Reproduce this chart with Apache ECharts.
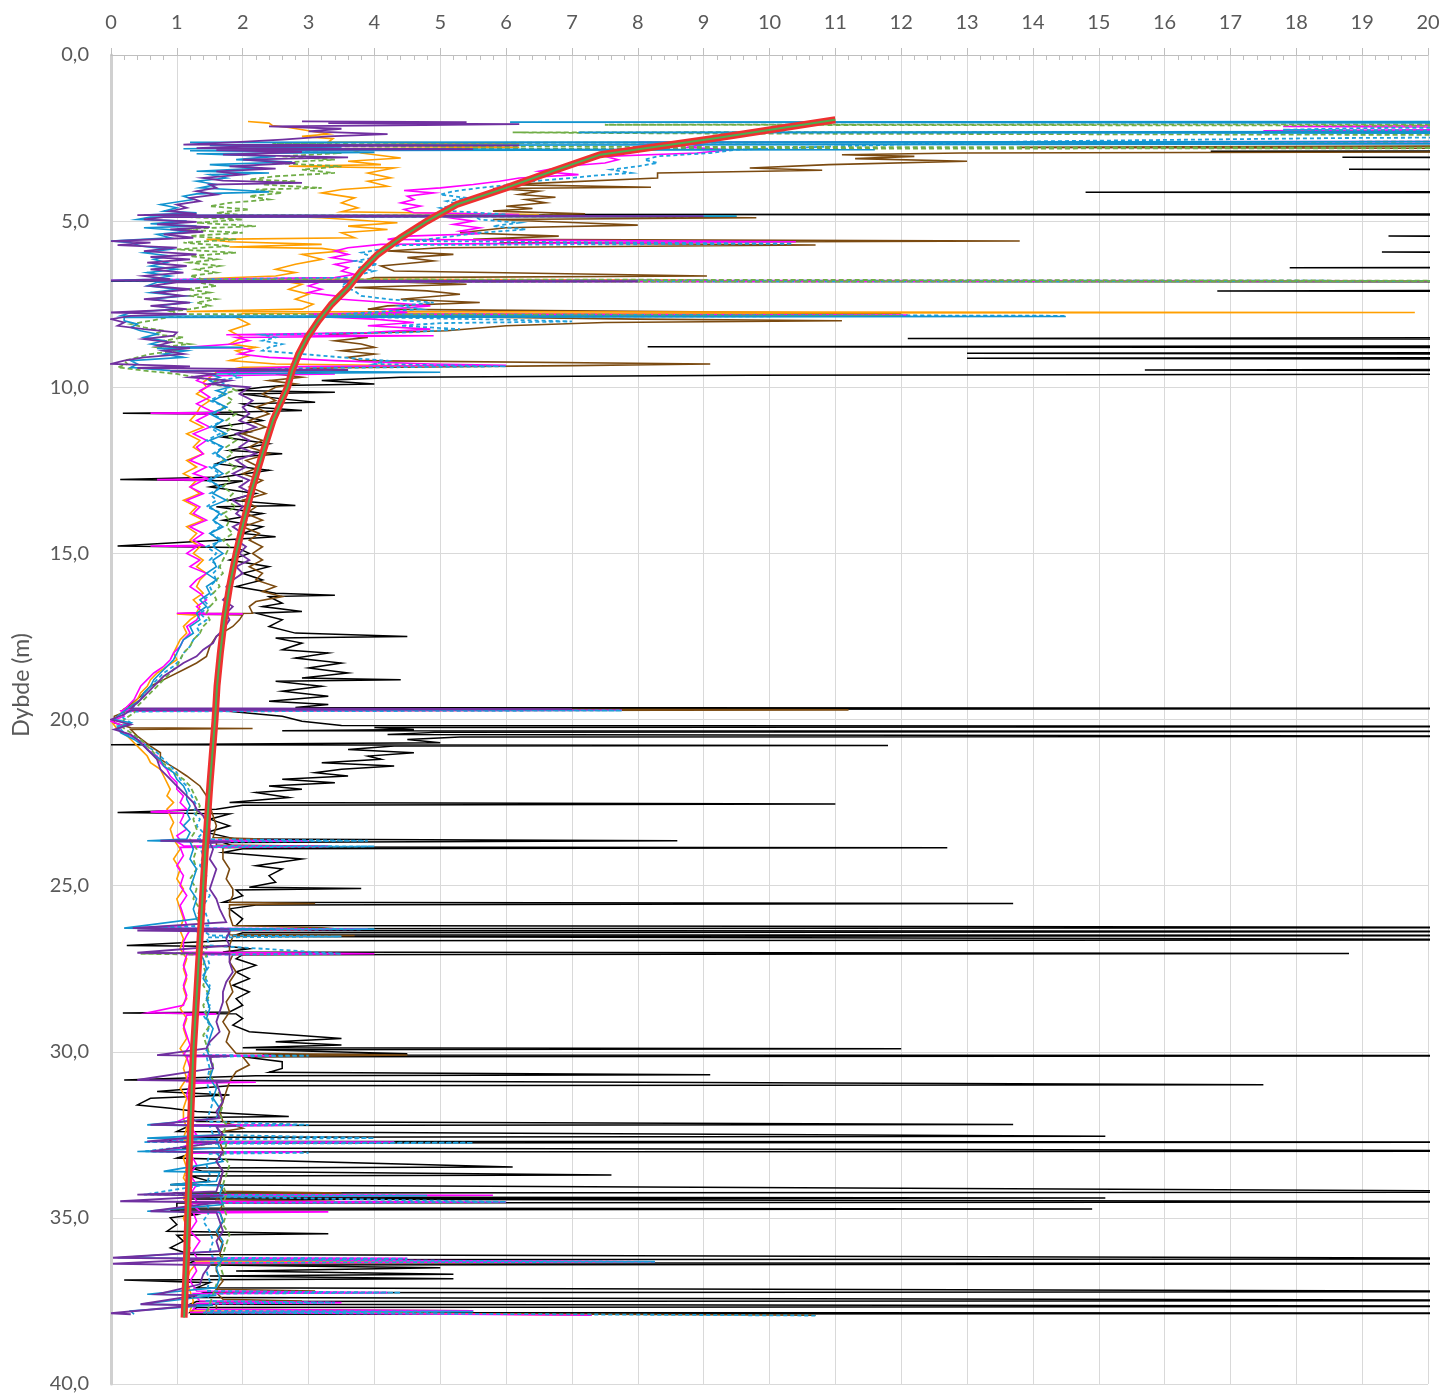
<!DOCTYPE html>
<html>
<head>
<meta charset="utf-8">
<script src="https://cdn.jsdelivr.net/npm/echarts@6/dist/echarts.min.js"></script>
<style>
html,body{margin:0;padding:0;background:#fff;}
#chart{width:1443px;height:1394px;}
</style>
</head>
<body>
<div id="chart"></div>
<script>
// Axis ticks
const xTicks = [0,1,2,3,4,5,6,7,8,9,10,11,12,13,14,15,16,17,18,19,20];
const yTicks = [0,5,10,15,20,25,30,35,40];
const yAxisTitle = 'Dybde (m)';

// Reference curve: [depth (m), value]
const refCurve = [[1.95,11.0],[2.5,9.2],[3.0,7.43],[3.5,6.7],[4.0,6.0],[4.5,5.25],[5.0,4.8],[5.5,4.4],[6.0,4.05],[6.5,3.8],[7.0,3.6],[7.5,3.35],[8.0,3.15],[8.5,2.98],[9.0,2.85],[9.5,2.75],[10,2.68],[11,2.46],[12,2.3],[13,2.15],[14,2.02],[15,1.9],[16,1.8],[17,1.72],[18,1.66],[19,1.61],[20,1.58],[22,1.5],[24,1.43],[26,1.37],[28,1.31],[30,1.25],[32,1.21],[34,1.18],[36,1.15],[38,1.11]];

// Measured profiles: [depth (m), value]; values above 20 run off the plot
const blackPts = [[2.0,24],[2.88,24],[2.9,16.7],[2.92,24],[3.06,24],[3.08,18.7],[3.1,24],[3.42,24],[3.44,18.8],[3.46,24],[4.11,24],[4.13,14.8],[4.15,24],[4.78,24],[4.8,6.8],[4.82,24],[5.43,24],[5.45,19.4],[5.47,24],[5.91,24],[5.93,19.3],[5.95,24],[6.38,24],[6.4,17.9],[6.42,24],[6.79,24],[6.81,0.0],[6.83,24],[7.08,24],[7.1,16.8],[7.12,24],[8.5,24],[8.53,12.1],[8.56,24],[8.75,24],[8.78,8.15],[8.81,24],[8.95,24],[8.98,13.0],[9.01,24],[9.1,24],[9.13,13.0],[9.16,24],[9.45,24],[9.48,15.7],[9.51,24],[9.6,24],[9.64,9.7],[9.7,4.4],[9.8,3.2],[9.9,4.0],[9.95,2.6],
[10.0,2.3],[10.1,1.9],[10.15,3.4],[10.2,2.0],[10.35,2.6],[10.45,3.1],[10.5,2.0],[10.6,2.2],[10.7,2.9],[10.75,1.8],[10.78,0.18],[10.81,1.9],[11.0,2.3],[11.2,1.6],[11.35,2.1],[11.5,1.7],[11.7,2.4],[11.9,1.8],[12.0,2.6],[12.1,1.9],[12.3,1.6],[12.5,2.4],[12.7,1.7],[12.78,0.14],[12.82,2.0],[13.0,1.5],[13.2,2.2],[13.4,1.8],[13.56,2.8],[13.6,1.6],[13.8,2.3],[14.0,1.7],[14.2,2.3],[14.4,2.0],[14.5,2.5],[14.6,1.7],[14.78,0.1],[14.82,1.9],[15.0,2.1],[15.2,1.8],[15.4,2.4],[15.6,2.0],[15.8,2.3],[16.0,1.9],[16.2,2.5],[16.26,3.4],[16.3,2.4],[16.5,2.6],[16.6,2.3],[16.75,2.9],[16.8,2.2],[17.0,2.6],[17.2,2.4],[17.4,2.8],[17.5,4.5],[17.55,2.5],[17.7,2.9],[17.9,2.6],[18.0,3.3],[18.15,2.8],[18.3,3.5],[18.45,3.0],[18.6,3.6],[18.75,2.9],[18.8,4.4],[18.85,2.5],[19.0,3.2],[19.15,2.6],[19.3,3.3],[19.45,2.4],[19.55,3.3],[19.64,2.8],[19.67,24],[19.7,1.5],[19.9,2.6],[20.05,2.9],[20.18,3.5],[20.21,24],[20.24,4.0],[20.3,4.6],[20.34,2.6],[20.36,24],[20.38,5.0],[20.45,4.2],[20.51,24],[20.53,5.3],[20.6,4.5],[20.7,5.0],[20.76,0.0],[20.78,11.8],[20.8,4.3],[20.9,3.6],[21.0,4.6],[21.1,3.9],[21.2,4.1],[21.3,3.2],[21.4,4.3],[21.5,3.5],[21.6,3.1],[21.7,3.6],[21.8,2.6],[21.9,3.4],[22.0,2.4],[22.1,2.9],[22.2,2.2],[22.35,2.7],[22.5,1.8],[22.54,11.0],[22.58,2.0],[22.7,1.6],[22.8,0.1],[22.84,1.8],[23.0,1.5],[23.2,1.8],[23.4,1.45],[23.6,1.9],[23.65,8.6],[23.7,1.7],[23.84,1.9],[23.86,12.7],[23.89,2.0],
[24.0,1.7],[24.2,2.9],[24.4,2.2],[24.5,2.6],[24.7,2.4],[24.9,2.5],[25.05,2.1],[25.09,3.8],[25.13,1.9],[25.3,2.0],[25.5,1.7],[25.54,13.7],[25.58,2.2],[25.7,1.8],[25.85,1.9],[26.0,2.0],[26.2,1.9],[26.26,24],[26.3,2.0],[26.35,1.8],[26.38,24],[26.42,2.0],[26.48,1.9],[26.5,24],[26.53,2.4],[26.63,24],[26.66,1.7],[26.8,0.24],[26.83,1.8],[26.9,2.1],[27.0,1.7],[27.04,18.8],[27.08,2.0],[27.2,1.9],[27.4,2.2],[27.6,1.9],[27.8,2.1],[28.0,1.85],[28.2,2.1],[28.4,1.9],[28.6,2.0],[28.8,1.8],[28.83,0.18],[28.86,1.9],[29.0,2.0],[29.2,1.85],[29.4,2.1],[29.6,3.5],[29.7,2.5],[29.8,3.5],[29.88,2.0],[29.91,12.0],[29.94,2.2],[30.06,4.5],[30.1,2.3],[30.12,24],[30.15,2.0],[30.3,2.6],[30.5,2.6],[30.62,2.4],[30.69,9.1],[30.72,2.2],[30.85,0.2],[30.88,3.3],[30.99,17.5],[31.02,1.8],[31.2,0.7],[31.3,1.8],[31.4,0.6],[31.6,0.4],[31.7,0.9],[31.8,1.3],[31.95,2.7],[31.98,1.2],[32.1,1.3],[32.19,13.7],[32.22,1.2],[32.4,1.0],[32.54,15.1],[32.57,1.3],[32.69,0.8],[32.72,24],[32.75,1.2],[32.9,1.1],[32.99,24],[33.02,1.3],[33.2,1.0],[33.47,6.1],[33.5,1.2],[33.6,1.4],[33.71,7.6],[33.74,1.2],[33.9,1.5],[34.0,0.9],[34.22,24],[34.25,1.0],[34.37,1.2],[34.4,15.1],[34.43,1.1],[34.52,24],[34.55,1.0],[34.7,1.0],[34.73,14.9],[34.76,0.9],[34.9,1.3],[35.0,0.9],[35.2,1.0],[35.4,0.85],[35.48,3.3],[35.52,1.0],[35.7,1.1],[35.9,0.9],[36.1,1.2],[36.23,24],[36.26,1.3],[36.35,1.2],[36.38,24],[36.42,1.5],[36.5,5.0],[36.6,1.9],[36.7,5.2],[36.75,1.5],[36.83,5.2],[36.87,0.2],[36.95,1.5],[37.1,1.3],[37.22,24],[37.25,1.4],[37.4,1.2],[37.49,24],[37.52,1.3],[37.6,1.2],[37.66,24],[37.7,1.3],[37.85,1.2],[37.87,24],[37.9,1.2]];

const brownPts = [[2.72,24],[2.78,13.8],[2.82,24],[2.9,24],[2.95,12.9],[3.0,11.1],[3.05,12.2],[3.12,11.3],[3.2,13.0],[3.3,10.9],[3.4,9.7],[3.47,10.8],[3.55,8.3],[3.7,8.3],[3.9,6.0],[3.98,8.2],[4.02,5.8],[4.1,6.5],[4.2,6.2],[4.28,6.75],[4.35,6.3],[4.45,6.6],[4.55,6.0],[4.62,6.4],[4.7,5.8],[4.78,7.2],[4.85,5.7],[4.9,9.8],[4.95,5.8],[5.05,7.1],[5.12,8.0],[5.2,6.0],[5.35,5.3],[5.45,6.8],[5.55,5.5],[5.6,13.8],[5.65,5.9],[5.72,10.7],[5.8,5.0],[5.9,4.2],[6.0,5.2],[6.1,4.5],[6.2,4.9],[6.35,4.1],[6.5,4.3],[6.65,9.05],[6.7,4.0],[6.8,3.8],[6.9,5.4],[7.0,3.7],[7.1,4.8],[7.2,5.3],[7.35,4.4],[7.45,5.6],[7.55,4.2],[7.65,3.9],[7.78,12.0],[7.85,4.0],[7.95,8.0],[8.0,11.1],[8.05,7.5],[8.15,6.0],[8.3,5.1],[8.4,3.3],[8.5,3.9],[8.6,3.4],[8.7,3.8],[8.8,4.0],[8.9,3.5],[9.0,4.0],[9.1,3.6],[9.2,3.8],[9.3,9.1],[9.35,7.0],[9.42,3.0],[9.5,3.6],[9.6,2.5],[9.7,2.9],[9.8,2.4],[9.9,2.8],[10.0,2.5],
[10.2,2.3],[10.4,2.5],[10.6,2.2],[10.8,2.4],[11.0,2.1],[11.2,2.35],[11.4,2.0],[11.6,2.3],[11.8,2.1],[12.0,2.4],[12.2,2.05],[12.4,2.25],[12.6,2.0],[12.8,2.3],[13.0,2.1],[13.2,2.35],[13.4,2.0],[13.6,2.2],[13.8,2.05],[14.0,2.3],[14.2,2.0],[14.4,2.25],[14.6,2.1],[14.8,2.3],[15.0,2.15],[15.2,2.3],[15.4,2.1],[15.6,2.3],[15.8,2.2],[16.0,2.5],[16.15,2.3],[16.3,2.6],[16.45,2.2],[16.6,2.1],[16.8,2.15],[16.82,1.1],[16.85,2.0],[17.0,1.95],[17.2,1.85],[17.5,1.6],[17.8,1.5],[18.1,1.45],[18.3,1.3],[18.5,1.1],[18.8,0.8],[19.0,0.6],[19.3,0.45],[19.55,0.3],[19.68,0.2],[19.71,11.2],[19.74,0.25],[19.9,0.05],[20.1,0.05],[20.25,0.3],[20.27,2.15],[20.3,0.3],[20.5,0.4],[20.8,0.6],[21.0,0.75],[21.2,0.75],[21.5,1.0],[21.7,1.15],[22.0,1.35],[22.3,1.45],[22.6,1.5],[22.9,1.55],[23.2,1.6],[23.55,1.55],[23.6,2.3],[23.65,1.6],[23.78,1.6],[23.82,3.3],[23.86,1.7],[24.2,1.7],[24.5,1.8],[24.8,1.75],[25.1,1.85],[25.3,1.85],[25.5,1.8],[25.54,3.1],[25.58,1.8],[25.9,1.8],[26.2,1.85],[26.27,3.2],[26.31,3.45],[26.35,1.8],[26.48,1.8],[26.5,3.7],[26.53,1.85],[26.8,1.8],[27.02,1.8],[27.05,3.5],[27.08,1.85],[27.3,1.8],[27.6,1.9],[27.9,1.8],[28.2,1.85],[28.5,1.75],[28.8,1.8],[29.1,1.7],[29.4,1.8],[29.7,1.75],[30.05,1.9],[30.1,4.5],[30.15,2.0],[30.4,2.1],[30.6,1.9],[30.9,1.8],[31.2,1.75],[31.5,1.7],[31.8,1.65],[32.1,1.7],[32.3,2.0],[32.4,1.7],[32.7,1.65],[33.0,1.7],[33.3,1.6],[33.6,1.7],[34.0,1.65],[34.2,1.7],[34.25,3.5],[34.3,1.65],[34.45,1.6],[34.5,3.4],[34.55,1.7],[34.8,1.65],[35.1,1.7],[35.5,1.6],[35.8,1.7],[36.1,1.65],[36.28,1.7],[36.32,8.26],[36.36,1.6],[36.6,1.6],[36.9,1.7],[37.15,1.6],[37.2,3.1],[37.25,1.6],[37.45,1.7],[37.5,2.9],[37.55,1.6],[37.75,1.6],[37.8,5.5],[37.85,1.6],[37.93,10.7]];

const orangePts = [[2.0,2.08],[2.05,2.4],[2.12,2.45],[2.18,2.7],[2.28,3.0],[2.38,3.3],[2.45,2.9],[2.52,3.37],[2.62,3.3],[2.66,6.2],[2.7,3.5],[2.78,6.2],[2.82,3.6],[2.95,3.8],[3.1,4.4],[3.2,3.6],[3.3,4.1],[3.35,2.7],[3.4,4.3],[3.55,3.9],[3.7,4.25],[3.8,3.9],[3.95,4.2],[4.05,3.5],[4.15,3.2],[4.3,3.7],[4.45,3.5],[4.6,3.75],[4.72,3.5],[4.8,6.5],[4.85,2.5],[4.9,3.2],[5.05,4.35],[5.15,3.6],[5.25,4.2],[5.35,3.5],[5.5,3.7],[5.55,1.45],[5.62,1.8],[5.7,3.2],[5.78,1.8],[5.82,3.2],[5.9,3.5],[6.0,2.9],[6.15,3.2],[6.3,2.8],[6.45,2.5],[6.55,2.8],[6.65,2.5],[6.74,1.3],[6.77,9.0],[6.8,2.6],[6.9,2.9],[7.05,2.7],[7.2,3.0],[7.35,2.8],[7.5,3.07],[7.65,2.9],[7.72,1.15],[7.75,19.8],[7.78,2.0],[7.9,1.9],[8.1,2.1],[8.3,1.8],[8.5,2.0],[8.7,1.8],[8.8,2.2],[8.9,1.9],[9.05,2.1],[9.2,1.8],[9.3,2.5],[9.36,5.0],[9.4,2.0],[9.55,1.6],[9.7,1.5],[9.85,1.4],[10.0,1.45],[10.2,1.3],[10.4,1.5],[10.6,1.35],[10.78,1.3],
[11.0,1.2],[11.2,1.4],[11.4,1.15],[11.6,1.35],[11.8,1.25],[12.0,1.4],[12.2,1.15],[12.4,1.3],[12.6,1.1],[12.8,1.3],[13.0,1.2],[13.2,1.35],[13.4,1.1],[13.6,1.3],[13.8,1.2],[14.0,1.4],[14.2,1.15],[14.4,1.3],[14.6,1.2],[14.8,1.35],[15.0,1.25],[15.2,1.4],[15.4,1.3],[15.6,1.45],[15.8,1.35],[16.0,1.3],[16.2,1.4],[16.4,1.25],[16.6,1.35],[16.78,1.3],[16.82,1.0],[16.86,1.3],[17.0,1.2],[17.2,1.1],[17.4,1.15],[17.6,1.05],[17.8,1.0],[18.0,0.95],[18.2,1.0],[18.4,0.85],[18.6,0.7],[18.8,0.6],[19.0,0.55],[19.2,0.45],[19.4,0.4],[19.6,0.3],[19.68,0.25],[19.7,5.0],[19.72,0.2],[19.9,0.1],[20.1,0.02],[20.3,0.1],[20.5,0.25],[20.7,0.35],[20.9,0.45],[21.1,0.55],[21.3,0.6],[21.5,0.75],[21.7,0.8],[21.9,0.85],[22.1,0.9],[22.3,0.85],[22.5,0.95],[22.7,0.85],[22.9,0.9],[23.1,0.95],[23.3,0.9],[23.6,0.95],[23.9,1.05],[24.2,0.95],[24.5,1.05],[24.8,1.0],[25.1,1.1],[25.4,1.0],[25.7,1.05],[26.0,1.1],[26.3,1.05],[26.32,3.0],[26.35,1.05],[26.6,1.1],[26.9,1.05],[27.2,1.15],[27.5,1.1],[27.8,1.15],[28.1,1.1],[28.4,1.15],[28.7,1.05],[29.0,1.15],[29.3,1.1],[29.6,1.15],[29.9,1.05],[30.2,1.15],[30.5,1.1],[30.8,1.15],[31.1,1.05],[31.4,1.15],[31.7,1.1],[32.0,1.1],[32.3,1.15],[32.6,1.1],[32.9,1.2],[33.2,1.1],[33.5,1.15],[33.8,1.1],[34.1,1.2],[34.4,1.1],[34.7,1.2],[35.0,1.1],[35.3,1.15],[35.6,1.1],[35.9,1.2],[36.2,1.15],[36.3,1.3],[36.33,8.2],[36.36,1.3],[36.6,1.2],[36.9,1.15],[37.2,1.2],[37.5,1.25],[37.8,1.2],[37.93,7.3]];

const magentaPts = [[2.0,24],[2.1,24],[2.15,17.8],[2.2,24],[2.28,17.5],[2.32,24],[2.6,24],[2.63,8.0],[2.7,9.0],[2.78,8.75],[2.85,9.4],[2.95,8.9],[3.05,7.5],[3.15,7.7],[3.25,7.5],[3.35,6.9],[3.5,6.5],[3.6,7.1],[3.7,6.2],[3.8,5.9],[3.9,5.5],[4.0,5.0],[4.08,4.45],[4.15,4.9],[4.25,4.5],[4.35,4.6],[4.45,4.4],[4.55,4.7],[4.65,4.45],[4.75,4.6],[4.8,6.2],[4.84,5.6],[4.9,5.15],[5.0,5.5],[5.1,5.2],[5.2,5.6],[5.3,5.3],[5.38,5.6],[5.45,4.5],[5.55,4.2],[5.62,10.4],[5.7,4.1],[5.8,3.6],[5.9,3.4],[6.0,3.6],[6.1,3.35],[6.2,3.7],[6.3,3.4],[6.4,3.6],[6.5,3.5],[6.6,3.7],[6.7,3.4],[6.78,0.0],[6.8,24],[6.82,3.2],[6.95,3.0],[7.05,3.2],[7.15,3.0],[7.25,3.4],[7.35,3.5],[7.45,4.2],[7.55,4.85],[7.65,4.2],[7.75,4.5],[7.8,3.0],[7.83,12.1],[7.86,3.0],[7.95,4.0],[8.05,4.6],[8.15,3.9],[8.25,4.85],[8.35,3.9],[8.42,1.75],[8.45,4.9],[8.5,1.9],[8.6,2.1],[8.7,1.85],[8.8,1.15],[8.82,2.0],[8.9,2.15],[9.0,1.95],[9.1,2.4],[9.2,3.4],[9.3,4.85],[9.34,6.0],[9.38,2.8],[9.45,2.0],[9.55,1.6],[9.6,3.4],[9.66,1.4],[9.8,1.3],[9.95,1.5],
[10.1,1.35],[10.3,1.5],[10.5,1.3],[10.7,1.5],[10.76,1.6],[10.78,0.6],[10.8,1.5],[11.0,1.3],[11.2,1.5],[11.4,1.25],[11.6,1.45],[11.8,1.3],[12.0,1.4],[12.2,1.2],[12.4,1.45],[12.6,1.25],[12.76,1.5],[12.78,0.7],[12.8,1.4],[13.0,1.2],[13.2,1.4],[13.4,1.15],[13.6,1.35],[13.8,1.25],[14.0,1.45],[14.2,1.2],[14.4,1.4],[14.6,1.25],[14.76,1.4],[14.78,0.6],[14.8,1.3],[15.0,1.15],[15.2,1.35],[15.4,1.2],[15.6,1.45],[15.8,1.3],[16.0,1.2],[16.2,1.35],[16.4,1.45],[16.6,1.3],[16.78,1.4],[16.8,1.0],[16.82,2.0],[16.84,1.35],[17.0,1.3],[17.2,1.15],[17.4,1.2],[17.6,1.1],[17.8,1.05],[18.0,0.95],[18.2,0.9],[18.4,0.8],[18.6,0.65],[18.8,0.55],[19.0,0.45],[19.2,0.4],[19.4,0.35],[19.6,0.25],[19.7,0.2],[19.72,7.76],[19.74,0.15],[19.9,0.2],[20.05,0.0],[20.2,0.2],[20.3,0.1],[20.5,0.3],[20.7,0.5],[20.9,0.55],[21.1,0.7],[21.3,0.75],[21.5,0.85],[21.7,0.9],[21.9,1.0],[22.1,1.0],[22.3,1.1],[22.5,1.05],[22.7,1.15],[22.78,0.6],[22.82,1.1],[22.9,1.1],[23.1,1.05],[23.3,1.15],[23.5,1.0],[23.63,1.05],[23.65,3.0],[23.68,1.0],[23.8,1.1],[23.82,3.3],[23.85,1.05],[24.1,1.1],[24.4,1.0],[24.7,1.1],[25.0,1.05],[25.3,1.15],[25.6,1.05],[25.9,1.1],[26.2,1.15],[26.28,0.3],[26.31,3.9],[26.34,1.2],[26.5,1.15],[26.7,1.1],[27.0,1.1],[27.05,4.0],[27.08,1.15],[27.4,1.1],[27.7,1.15],[28.0,1.1],[28.3,1.15],[28.6,1.1],[28.83,0.55],[28.86,1.6],[28.9,1.15],[29.2,1.1],[29.5,1.15],[29.8,1.2],[30.1,1.1],[30.12,2.5],[30.15,1.15],[30.5,1.2],[30.9,1.15],[30.92,2.2],[30.95,1.2],[31.3,1.15],[31.6,1.2],[31.9,1.25],[32.19,0.9],[32.21,2.8],[32.24,1.2],[32.5,1.3],[32.7,0.9],[32.72,4.3],[32.75,1.25],[33.0,0.9],[33.02,2.9],[33.05,1.2],[33.4,1.3],[33.7,1.2],[34.0,1.3],[34.3,1.2],[34.32,5.8],[34.35,1.25],[34.5,1.3],[34.52,6.0],[34.55,1.2],[34.8,1.35],[34.82,3.3],[34.85,1.25],[35.1,1.3],[35.4,1.2],[35.7,1.35],[36.0,1.25],[36.2,1.3],[36.22,4.5],[36.25,1.3],[36.32,8.26],[36.36,1.25],[36.6,1.3],[36.9,1.2],[37.2,1.3],[37.25,4.2],[37.28,1.25],[37.5,1.35],[37.55,3.5],[37.58,1.3],[37.75,1.25],[37.8,5.5],[37.84,1.2],[37.93,7.3]];

const blueDashPts = [[2.0,24],[2.15,24],[2.2,19.0],[2.25,17.8],[2.3,24],[2.45,24],[2.5,18.6],[2.6,14.0],[2.65,12.7],[2.75,11.0],[2.85,9.5],[2.95,9.1],[3.05,8.3],[3.15,8.1],[3.25,8.3],[3.35,8.0],[3.45,7.6],[3.55,7.9],[3.62,7.4],[3.7,7.0],[3.8,6.4],[3.9,6.1],[4.0,5.6],[4.1,5.2],[4.2,5.0],[4.3,5.4],[4.4,5.1],[4.5,5.3],[4.6,5.0],[4.7,5.2],[4.8,6.0],[4.83,5.5],[4.95,5.6],[5.05,6.2],[5.15,5.8],[5.25,6.3],[5.35,5.6],[5.5,5.0],[5.6,4.6],[5.68,10.35],[5.72,4.4],[5.85,4.1],[5.95,3.8],[6.1,4.0],[6.2,3.7],[6.3,4.05],[6.4,3.75],[6.5,4.0],[6.6,3.8],[6.7,3.7],[6.78,0.2],[6.8,24],[6.82,3.6],[6.95,3.5],[7.1,3.7],[7.25,3.8],[7.35,4.2],[7.45,4.9],[7.55,4.4],[7.65,4.7],[7.8,3.5],[7.85,14.5],[7.88,3.6],[7.97,6.1],[8.02,7.0],[8.07,5.0],[8.15,4.4],[8.25,5.3],[8.35,4.5],[8.42,2.3],[8.5,2.5],[8.6,2.3],[8.7,2.6],[8.8,2.4],[8.9,2.3],[9.0,2.9],[9.1,3.5],[9.2,4.2],[9.3,4.0],[9.37,6.0],[9.42,3.0],[9.5,2.0],[9.6,1.8],[9.7,1.95],[9.8,1.6],[9.95,1.8],
[10.2,1.7],[10.4,1.5],[10.6,1.75],[10.8,1.55],[11.0,1.7],[11.2,1.5],[11.4,1.65],[11.6,1.45],[11.8,1.7],[12.0,1.55],[12.2,1.75],[12.4,1.5],[12.6,1.65],[12.8,1.45],[13.0,1.7],[13.2,1.5],[13.4,1.6],[13.6,1.45],[13.8,1.7],[14.0,1.55],[14.2,1.65],[14.4,1.5],[14.6,1.7],[14.8,1.45],[15.0,1.6],[15.2,1.5],[15.4,1.65],[15.6,1.55],[15.8,1.6],[16.0,1.5],[16.2,1.55],[16.4,1.4],[16.6,1.5],[16.8,1.35],[17.0,1.45],[17.2,1.3],[17.4,1.35],[17.6,1.25],[17.8,1.2],[18.0,1.1],[18.2,1.05],[18.4,0.95],[18.6,0.8],[18.8,0.7],[19.0,0.6],[19.2,0.5],[19.4,0.45],[19.6,0.35],[19.7,0.3],[19.73,7.76],[19.76,0.25],[19.9,0.15],[20.1,0.3],[20.2,0.1],[20.4,0.2],[20.6,0.4],[20.8,0.55],[21.0,0.7],[21.2,0.8],[21.4,0.9],[21.6,1.0],[21.8,1.05],[22.0,1.15],[22.2,1.2],[22.4,1.25],[22.6,1.3],[22.8,1.25],[23.0,1.35],[23.2,1.3],[23.4,1.4],[23.6,1.3],[23.65,3.9],[23.68,1.35],[23.8,1.4],[23.82,4.0],[23.85,1.35],[24.1,1.4],[24.4,1.35],[24.7,1.45],[25.0,1.4],[25.3,1.5],[25.6,1.4],[25.9,1.45],[26.2,1.5],[26.28,0.3],[26.31,4.0],[26.34,1.4],[26.5,1.5],[26.53,3.5],[26.56,1.45],[26.8,1.5],[27.05,3.5],[27.08,1.45],[27.4,1.5],[27.7,1.4],[28.0,1.5],[28.3,1.45],[28.6,1.5],[28.9,1.4],[29.2,1.5],[29.5,1.45],[29.8,1.5],[30.1,1.4],[30.12,3.0],[30.15,1.45],[30.5,1.5],[30.9,1.45],[31.2,1.5],[31.5,1.55],[31.8,1.5],[32.1,1.45],[32.2,3.0],[32.23,1.5],[32.5,1.55],[32.6,4.0],[32.63,1.5],[32.72,0.5],[32.74,5.5],[32.77,1.5],[33.0,0.5],[33.04,3.0],[33.07,1.5],[33.4,1.45],[33.7,1.5],[34.0,1.45],[34.3,0.5],[34.33,4.8],[34.36,1.5],[34.52,6.0],[34.55,1.45],[34.8,1.5],[35.1,1.4],[35.4,1.5],[35.7,1.55],[36.0,1.5],[36.2,1.55],[36.23,4.5],[36.26,1.5],[36.32,8.26],[36.35,1.5],[36.6,1.45],[36.9,1.5],[37.2,1.45],[37.25,4.4],[37.28,1.5],[37.5,1.45],[37.55,3.4],[37.58,1.5],[37.8,1.45],[37.82,5.5],[37.85,1.4],[37.94,10.7]];

const greenDashPts = [[2.0,24],[2.08,24],[2.1,7.5],[2.13,24],[2.3,24],[2.33,6.1],[2.36,8.5],[2.42,24],[2.6,24],[2.65,2.45],[2.7,3.6],[2.75,2.6],[2.8,24],[2.83,3.0],[2.9,2.5],[2.95,3.5],[3.05,2.6],[3.15,3.4],[3.25,2.45],[3.35,3.5],[3.45,2.9],[3.55,3.4],[3.65,2.5],[3.75,2.1],[3.8,2.8],[3.9,2.3],[4.0,3.2],[4.05,2.2],[4.15,2.6],[4.25,2.1],[4.35,2.4],[4.45,1.8],[4.55,1.5],[4.65,2.1],[4.75,1.6],[4.82,2.0],[4.85,9.5],[4.88,1.2],[4.95,2.0],[5.05,1.3],[5.15,2.2],[5.25,1.0],[5.35,2.0],[5.45,1.2],[5.55,1.9],[5.65,1.1],[5.75,1.8],[5.85,1.0],[5.95,1.9],[6.05,1.2],[6.15,1.6],[6.25,1.2],[6.35,1.65],[6.45,1.3],[6.55,1.6],[6.65,1.2],[6.75,1.4],[6.8,24],[6.83,1.3],[6.95,1.6],[7.05,1.15],[7.15,1.5],[7.25,1.2],[7.35,1.6],[7.45,1.3],[7.55,1.5],[7.65,1.2],[7.72,0.9],[7.8,1.0],[7.85,12],[7.88,0.9],[8.0,0.6],[8.1,0.3],[8.2,0.5],[8.3,0.8],[8.4,0.65],[8.5,1.1],[8.6,0.8],[8.7,1.2],[8.8,0.7],[8.9,1.0],[9.0,0.6],[9.1,0.4],[9.2,0.2],[9.3,0.25],[9.4,0.1],[9.5,0.5],[9.6,1.0],[9.7,1.3],[9.8,1.6],[9.9,1.5],[10.0,1.8],[10.1,1.9],[10.2,1.7],
[10.4,1.85],[10.6,1.7],[10.8,1.9],[11.0,1.75],[11.2,1.85],[11.4,1.7],[11.6,1.9],[11.8,1.75],[12.0,1.85],[12.2,1.7],[12.4,1.9],[12.6,1.75],[12.8,1.8],[13.0,1.7],[13.2,1.85],[13.4,1.75],[13.6,1.9],[13.8,1.7],[14.0,1.8],[14.2,1.75],[14.4,1.85],[14.6,1.7],[14.8,1.8],[15.0,1.75],[15.2,1.7],[15.4,1.65],[15.6,1.7],[15.8,1.6],[16.0,1.65],[16.2,1.55],[16.4,1.6],[16.6,1.5],[16.8,1.45],[17.0,1.5],[17.2,1.4],[17.4,1.35],[17.6,1.25],[17.8,1.2],[18.0,1.1],[18.2,1.05],[18.4,1.0],[18.6,0.9],[18.8,0.8],[19.0,0.7],[19.2,0.6],[19.4,0.5],[19.6,0.4],[19.8,0.35],[20.0,0.2],[20.2,0.15],[20.4,0.3],[20.6,0.45],[20.8,0.55],[21.0,0.65],[21.2,0.7],[21.4,0.85],[21.6,0.95],[21.8,1.1],[22.0,1.2],[22.2,1.25],[22.4,1.3],[22.6,1.35],[22.8,1.3],[23.0,1.25],[23.3,1.3],[23.6,1.2],[23.9,1.3],[24.2,1.25],[24.5,1.3],[24.8,1.2],[25.1,1.3],[25.4,1.25],[25.7,1.35],[26.0,1.3],[26.3,1.4],[26.6,1.35],[26.9,1.45],[27.02,1.4],[27.05,0.45],[27.08,1.45],[27.4,1.4],[27.7,1.45],[28.0,1.4],[28.3,1.5],[28.6,1.4],[28.9,1.45],[29.2,1.5],[29.5,1.4],[29.8,1.45],[30.1,1.5],[30.4,1.55],[30.7,1.5],[31.0,1.6],[31.3,1.65],[31.6,1.7],[31.9,1.65],[32.2,1.75],[32.5,1.7],[32.8,1.75],[33.1,1.7],[33.4,1.8],[33.7,1.75],[34.0,1.7],[34.3,1.75],[34.6,1.7],[34.9,1.75],[35.2,1.7],[35.5,1.8],[35.8,1.75],[36.1,1.7],[36.4,1.65],[36.7,1.7],[37.0,1.6],[37.3,1.55],[37.6,1.5],[37.9,1.45]];

const bluePts = [[2.0,24],[2.02,6.06],[2.05,24],[2.3,24],[2.33,7.1],[2.36,24],[2.6,24],[2.63,1.2],[2.67,24],[2.72,1.5],[2.77,3.5],[2.82,1.1],[2.85,11.6],[2.88,1.2],[2.93,4.0],[2.97,1.3],[3.05,2.5],[3.15,1.9],[3.22,2.75],[3.3,1.5],[3.4,2.3],[3.5,1.3],[3.55,2.4],[3.6,1.5],[3.7,1.75],[3.8,1.3],[3.9,1.6],[4.0,1.35],[4.08,2.05],[4.12,2.4],[4.18,1.3],[4.25,1.1],[4.35,1.25],[4.5,0.75],[4.6,1.0],[4.7,0.8],[4.75,1.3],[4.82,0.5],[4.85,9.5],[4.88,0.6],[4.95,0.4],[5.0,1.15],[5.08,0.6],[5.15,1.3],[5.2,0.5],[5.3,1.2],[5.4,0.7],[5.5,0.9],[5.6,0.0],[5.65,0.3],[5.75,0.45],[5.85,0.9],[5.95,0.5],[6.05,0.9],[6.15,0.65],[6.25,0.85],[6.35,0.6],[6.45,1.0],[6.55,0.55],[6.65,0.9],[6.75,0.6],[6.79,0.0],[6.81,6.0],[6.84,0.7],[6.95,0.55],[7.05,1.0],[7.15,0.6],[7.25,1.1],[7.35,0.6],[7.45,1.15],[7.55,0.7],[7.65,1.0],[7.75,0.3],[7.85,0.15],[7.87,14.5],[7.9,0.2],[8.0,0.2],[8.1,0.4],[8.2,0.3],[8.3,0.45],[8.4,0.7],[8.5,0.5],[8.6,0.8],[8.7,0.6],[8.78,0.9],[8.8,2.0],[8.83,0.7],[8.9,1.15],[9.0,0.8],[9.1,1.1],[9.2,0.3],[9.3,0.4],[9.4,0.3],[9.5,0.9],[9.55,5.0],[9.6,1.5],[9.7,1.65],[9.8,1.5],[9.9,1.6],[10.0,1.8],[10.1,1.6],[10.2,1.75],
[10.4,1.55],[10.6,1.75],[10.8,1.5],[11.0,1.7],[11.2,1.55],[11.4,1.75],[11.6,1.5],[11.8,1.7],[12.0,1.6],[12.2,1.75],[12.4,1.55],[12.6,1.7],[12.8,1.5],[13.0,1.65],[13.2,1.55],[13.4,1.75],[13.6,1.5],[13.8,1.65],[14.0,1.55],[14.2,1.7],[14.4,1.5],[14.6,1.65],[14.8,1.55],[15.0,1.7],[15.2,1.55],[15.4,1.6],[15.6,1.45],[15.8,1.6],[16.0,1.45],[16.2,1.5],[16.4,1.35],[16.6,1.45],[16.8,1.3],[17.0,1.35],[17.2,1.2],[17.4,1.25],[17.6,1.1],[17.8,1.05],[18.0,1.0],[18.2,0.95],[18.4,0.85],[18.6,0.75],[18.8,0.65],[19.0,0.6],[19.2,0.5],[19.4,0.45],[19.6,0.3],[19.75,0.2],[19.9,0.1],[20.0,0.05],[20.1,0.3],[20.25,0.1],[20.4,0.15],[20.6,0.35],[20.8,0.5],[21.0,0.6],[21.2,0.75],[21.4,0.8],[21.6,0.95],[21.8,1.0],[22.0,1.1],[22.2,1.15],[22.4,1.15],[22.6,1.2],[22.8,1.15],[23.0,1.2],[23.2,1.1],[23.4,1.2],[23.6,1.15],[23.65,0.55],[23.68,1.2],[23.9,1.25],[24.2,1.2],[24.5,1.3],[24.8,1.25],[25.1,1.2],[25.4,1.3],[25.7,1.25],[26.0,1.3],[26.28,0.2],[26.31,2.5],[26.34,1.3],[26.6,1.35],[26.9,1.3],[27.2,1.4],[27.5,1.45],[27.8,1.4],[28.1,1.5],[28.4,1.45],[28.7,1.5],[29.0,1.45],[29.3,1.55],[29.6,1.5],[29.9,1.45],[30.2,1.5],[30.5,1.55],[30.8,1.5],[31.1,1.6],[31.4,1.55],[31.7,1.65],[32.0,1.6],[32.2,0.55],[32.23,1.6],[32.5,1.65],[32.6,0.55],[32.63,1.6],[32.9,1.65],[33.0,0.4],[33.03,1.6],[33.3,1.7],[33.6,0.8],[33.63,1.65],[33.9,1.6],[34.0,0.9],[34.03,1.7],[34.3,1.65],[34.6,1.7],[34.8,0.55],[34.83,1.65],[35.1,1.7],[35.4,1.6],[35.7,1.7],[36.0,1.65],[36.2,0.1],[36.23,1.7],[36.5,1.6],[36.8,1.65],[37.1,1.6],[37.3,0.55],[37.33,1.6],[37.6,0.45],[37.63,1.55],[37.8,0.3],[37.9,0.35]];

const purplePts = [[2.0,2.9],[2.02,5.4],[2.05,3.3],[2.08,6.2],[2.11,4.75],[2.15,2.4],[2.22,3.5],[2.3,3.0],[2.38,4.2],[2.45,3.3],[2.55,2.6],[2.62,1.9],[2.7,1.1],[2.72,6.2],[2.75,2.0],[2.8,1.3],[2.83,5.5],[2.86,1.6],[2.92,2.9],[3.0,1.7],[3.08,3.6],[3.15,2.0],[3.25,2.8],[3.35,1.8],[3.42,2.5],[3.5,1.6],[3.6,2.0],[3.7,1.4],[3.78,1.7],[3.85,2.9],[3.9,1.5],[4.0,1.6],[4.1,1.3],[4.2,1.6],[4.3,1.2],[4.4,1.35],[4.5,1.0],[4.6,1.15],[4.7,0.9],[4.78,1.3],[4.82,0.4],[4.85,9.0],[4.88,0.8],[4.95,0.5],[5.02,1.3],[5.1,0.7],[5.18,1.5],[5.25,0.9],[5.32,1.4],[5.4,0.8],[5.5,1.25],[5.6,0.0],[5.65,0.6],[5.72,0.1],[5.8,1.0],[5.9,0.5],[6.0,1.3],[6.08,0.6],[6.15,1.2],[6.25,0.55],[6.35,1.15],[6.45,0.6],[6.55,1.1],[6.65,0.5],[6.75,0.9],[6.79,0.0],[6.81,8.0],[6.84,1.0],[6.95,0.6],[7.05,1.2],[7.15,0.7],[7.25,1.1],[7.35,0.5],[7.45,1.2],[7.55,0.6],[7.65,1.15],[7.75,0.0],[7.8,1.15],[7.85,0.3],[7.95,0.0],[8.05,0.2],[8.15,0.1],[8.25,0.5],[8.35,1.0],[8.45,0.95],[8.55,0.5],[8.65,0.9],[8.75,0.7],[8.82,1.2],[8.9,0.8],[9.0,1.1],[9.1,0.5],[9.2,0.2],[9.3,0.0],[9.37,1.2],[9.42,0.4],[9.48,3.6],[9.52,0.9],[9.6,1.6],[9.7,1.2],[9.8,1.8],[9.9,1.5],[10.0,2.1],
[10.2,1.95],[10.4,2.15],[10.6,2.0],[10.8,2.1],[11.0,1.95],[11.2,2.2],[11.4,1.9],[11.6,2.1],[11.8,1.95],[12.0,2.2],[12.2,1.9],[12.4,2.05],[12.6,1.85],[12.8,2.1],[13.0,1.95],[13.2,2.15],[13.4,1.85],[13.6,2.0],[13.8,1.9],[14.0,2.05],[14.2,1.85],[14.4,2.0],[14.6,1.9],[14.8,2.05],[15.0,1.95],[15.2,2.1],[15.4,1.9],[15.6,2.0],[15.8,1.85],[16.0,1.75],[16.2,1.8],[16.4,1.7],[16.6,1.85],[16.8,1.75],[17.0,1.8],[17.3,1.7],[17.5,1.6],[17.7,1.55],[17.9,1.4],[18.1,1.3],[18.3,1.1],[18.5,0.95],[18.7,0.8],[18.9,0.7],[19.1,0.6],[19.3,0.5],[19.5,0.4],[19.66,0.3],[19.69,7.0],[19.72,0.3],[19.85,0.2],[20.0,0.0],[20.15,0.3],[20.3,0.05],[20.45,0.3],[20.6,0.4],[20.8,0.5],[21.0,0.6],[21.2,0.7],[21.5,0.75],[21.7,0.85],[21.9,0.95],[22.1,1.05],[22.3,1.15],[22.5,1.25],[22.7,1.3],[22.9,1.4],[23.1,1.45],[23.3,1.5],[23.63,1.5],[23.65,0.75],[23.68,1.8],[23.72,1.5],[23.9,1.55],[24.2,1.5],[24.5,1.6],[24.8,1.55],[25.1,1.5],[25.4,1.6],[25.7,1.65],[25.9,1.7],[26.1,1.75],[26.28,0.33],[26.31,1.8],[26.35,0.4],[26.38,1.8],[26.6,1.75],[26.8,1.8],[27.02,0.4],[27.05,1.8],[27.3,1.8],[27.6,1.85],[27.9,1.75],[28.2,1.7],[28.5,1.7],[28.8,1.65],[29.1,1.6],[29.4,1.65],[29.7,1.5],[29.9,1.45],[30.1,0.7],[30.13,1.8],[30.16,1.5],[30.5,1.55],[30.85,0.4],[30.88,1.8],[30.92,1.6],[31.2,1.65],[31.5,1.7],[31.8,1.6],[32.0,1.65],[32.2,0.6],[32.23,1.9],[32.26,1.6],[32.5,1.7],[32.7,0.55],[32.73,1.65],[33.0,0.6],[33.03,1.7],[33.3,1.6],[33.6,1.7],[33.9,1.65],[34.2,1.6],[34.3,0.4],[34.33,1.7],[34.5,0.14],[34.53,1.65],[34.8,0.6],[34.83,1.6],[35.1,1.65],[35.4,1.7],[35.7,1.6],[36.0,1.65],[36.2,0.03],[36.23,1.6],[36.38,0.03],[36.42,1.5],[36.7,1.4],[37.0,1.35],[37.3,0.7],[37.33,1.3],[37.6,0.45],[37.63,1.3],[37.87,0.0],[37.9,0.3]];

const chart = echarts.init(document.getElementById('chart'), null, {renderer: 'canvas'});
const xy = pts => pts.map(p => [p[1], p[0]]);
const fontFam = 'Lato, "Open Sans", sans-serif';

function lineSeries(name, pts, color, width, dash) {
  return {
    name: name, type: 'line', data: xy(pts), showSymbol: false, symbol: 'none',
    clip: true, silent: true, animation: false,
    lineStyle: {color: color, width: width, type: dash || 'solid', cap: 'butt', join: 'miter'}
  };
}

const option = {
  backgroundColor: '#ffffff',
  animation: false,
  grid: {left: 111, right: 15, top: 55, height: 1336, containLabel: false},
  xAxis: [{
    type: 'value', position: 'top', min: 0, max: 20, interval: 1,
    axisLine: {show: true, lineStyle: {color: '#bfbfbf', width: 1}},
    axisTick: {show: true, inside: false, length: 7, lineStyle: {color: '#bfbfbf'}},
    axisLabel: {color: '#595959', fontSize: 20, fontFamily: fontFam, margin: 22,
      formatter: v => (xTicks.indexOf(v) >= 0 ? String(v) : '')},
    splitLine: {show: true, lineStyle: {color: '#d9d9d9', width: 1}}
  }, {
    type: 'value', position: 'top', min: 0, max: 20, interval: 1,
    axisLine: {show: false}, axisLabel: {show: false}, splitLine: {show: false},
    axisTick: {show: false, inside: true},
    minorTick: {show: true, splitNumber: 5, length: 5, lineStyle: {color: '#bfbfbf'}}
  }],
  yAxis: {
    type: 'value', inverse: true, min: 0, max: 40, interval: 5,
    axisLine: {show: true, onZero: false, lineStyle: {color: '#d0d0d0', width: 3}},
    axisTick: {show: false},
    axisLabel: {color: '#595959', fontSize: 20, fontFamily: fontFam, margin: 22,
      formatter: v => (yTicks.indexOf(v) >= 0 ? v.toFixed(1).replace('.', ',') : '')},
    splitLine: {show: true, lineStyle: {color: '#d9d9d9', width: 1}}
  },
  graphic: [{
    type: 'text', x: 22, y: 685, rotation: Math.PI / 2,
    style: {text: yAxisTitle, fill: '#595959', fontSize: 23, fontFamily: fontFam,
      align: 'center', verticalAlign: 'middle'}
  }],
  series: [
    lineSeries('black', blackPts, '#000000', 1.5),
    lineSeries('brown', brownPts, '#7b4a10', 1.6),
    lineSeries('orange', orangePts, '#ff9f00', 1.6),
    lineSeries('magenta', magentaPts, '#ff00ff', 1.6),
    lineSeries('blueDash', blueDashPts, '#1fa0dc', 1.8, [4, 3]),
    lineSeries('greenDash', greenDashPts, '#70ad47', 1.8, [5, 3]),
    lineSeries('blue', bluePts, '#1193cf', 1.6),
    lineSeries('purple', purplePts, '#7030a0', 1.8),
    lineSeries('refRed', refCurve, '#ef3030', 7),
    lineSeries('refGreen', refCurve, '#4caf50', 2)
  ]
};
chart.setOption(option);
</script>
</body>
</html>
